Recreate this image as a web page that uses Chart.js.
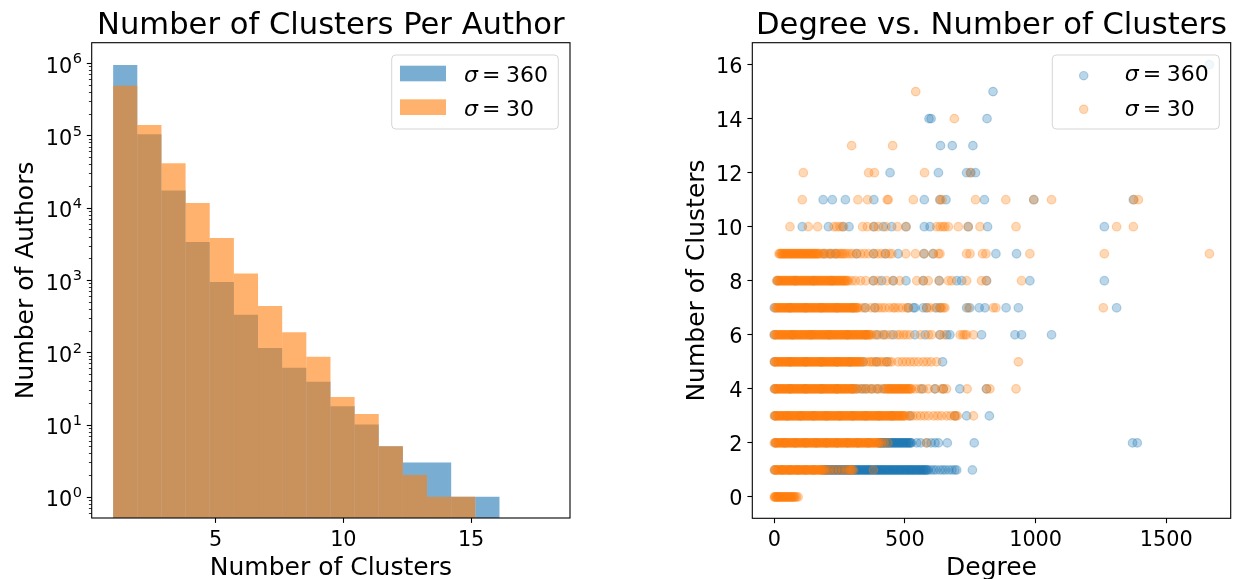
<!DOCTYPE html>
<html><head><meta charset="utf-8">
<script src="https://cdn.jsdelivr.net/npm/chart.js@4.4.0/dist/chart.umd.min.js"></script>
<style>
html,body{margin:0;padding:0;background:#fff;width:1239px;height:579px;overflow:hidden}
#c1{position:absolute;left:0;top:0}
#c2{position:absolute;left:620px;top:0}
</style></head><body>
<canvas id="c1" width="620" height="579"></canvas>
<canvas id="c2" width="619" height="579"></canvas>
<script>
// ---------------- data: left histogram ----------------
const histTitle = 'Number of Clusters Per Author';
const histXLabel = 'Number of Clusters';
const histYLabel = 'Number of Authors';
const histBinEdges = [0.99, 1.935, 2.88, 3.825, 4.77, 5.715, 6.66, 7.605, 8.55, 9.495, 10.44, 11.385, 12.33, 13.275, 14.22, 15.165, 16.11];
const histCounts360 = [944000, 104000, 17300, 3365, 942, 332, 115, 61, 39, 18, 10, 5, 3, 3, 1, 1];
const histCounts30 = [488000, 140000, 41200, 11600, 3822, 1227, 438, 190, 87, 24, 14, 5, 2, 1, 1, 0];
const histXTicks = [5, 10, 15];
const histYTickExponents = [0, 1, 2, 3, 4, 5, 6];
const sigmaValues = ['360', '30'];

// ---------------- data: right scatter ----------------
const scatTitle = 'Degree vs. Number of Clusters';
const scatXLabel = 'Degree';
const scatYLabel = 'Number of Clusters';
const scatXTicks = [0, 500, 1000, 1500];
const scatYTicks = [0, 2, 4, 6, 8, 10, 12, 14, 16];

// degrees of authors for each number of clusters (index = clusters), sigma = 360
const deg360Rows = [
  [],
  [2,30,60,90,120,150,180,190,193,197,200,204,207,211,214,218,221,225,228,232,235,239,242,246,249,253,256,260,263,267,270,274,277,281,284,288,291,295,298,302,305,309,312,316,319,323,326,330,333,337,340,344,347,351,354,358,361,365,368,372,375,379,382,386,389,393,396,400,403,407,410,414,417,421,424,428,431,435,438,442,445,449,452,456,459,463,466,470,473,477,480,484,487,491,494,498,501,505,508,512,515,519,522,526,529,533,536,540,543,547,550,554,557,561,564,568,571,575,578,582,585,589,600,610,620,634,645,655,668,680,691,698,758],
  [5,40,80,120,160,200,240,280,320,360,400,403,407,410,414,417,421,424,428,431,435,438,442,445,449,452,456,459,463,466,470,473,477,480,484,487,491,494,498,501,505,508,512,515,519,522,525,545,560,583,600,615,628,662,765,1371,1389],
  [3,50,100,150,200,250,300,350,400,450,519,690,736,823],
  [2,60,120,180,240,300,315,335,350,372,395,420,564,615,647,710,812],
  [1,60,120,180,240,290,340,390,430,644],
  [0,70,140,210,280,350,392,420,455,538,577,634,660,672,793,921,946,1061],
  [0,60,120,180,240,300,347,385,513,532,538,570,583,621,634,736,748,784,806,887,934,1310],
  [12,80,150,220,379,411,455,504,570,631,698,717,812,978,1263],
  [190,215,235,315,380,425,474,573,608,848,927],
  [107,207,262,286,381,417,449,504,574,596,742,816,1263],
  [187,222,272,381,574,634,657,804,993,1374],
  [443,628,736,752,770],
  [636,681,760],
  [592,600,814],
  [837],
  [1665]
];
// sigma = 30
const deg30Rows = [
  [0,2,4,7,9,12,14,17,19,22,25,28,31,34,37,40,43,46,49,52,55,58,61,64,67,70,73,76,80,85,91],
  [0,3,7,10,14,17,21,24,28,31,35,38,42,45,49,52,56,59,63,66,70,73,77,80,84,87,91,94,98,101,105,108,112,115,119,122,126,129,133,136,140,143,147,150,154,157,161,164,168,171,175,178,182,185,189,192,200,210,222,235,250,262,275,284,290,294,298,303,379],
  [0,3,7,10,14,17,21,24,28,31,35,38,42,45,49,52,56,59,63,66,70,73,77,80,84,87,91,94,98,101,105,108,112,115,119,122,126,129,133,136,140,143,147,150,154,157,161,164,168,171,175,178,182,185,189,192,196,199,203,206,210,213,217,220,224,227,231,234,238,241,245,248,252,255,259,262,266,269,273,276,280,283,287,290,294,297,301,304,308,311,315,318,322,325,329,332,336,339,343,346,350,353,357,360,364,367,371,374,378,381,385,388,392,395,399,402,410,420,435,583],
  [0,3,7,10,14,17,21,24,28,31,35,38,42,45,49,52,56,59,63,66,70,73,77,80,84,87,91,94,98,101,105,108,112,115,119,122,126,129,133,136,140,143,147,150,154,157,161,164,168,171,175,178,182,185,189,192,196,199,203,206,210,213,217,220,224,227,231,234,238,241,245,248,252,255,259,262,266,269,273,276,280,283,287,290,294,297,301,304,308,311,315,318,322,325,329,332,336,339,343,346,350,353,357,360,364,367,371,374,378,381,385,388,392,395,399,402,406,409,413,416,420,423,427,430,434,437,441,444,448,451,455,458,462,465,469,472,476,479,483,486,490,493,497,500,510,520,530,545,560,575,590,610,625,640,660,675,690,695,700,762],
  [0,3,7,10,14,17,21,24,28,31,35,38,42,45,49,52,56,59,63,66,70,73,77,80,84,87,91,94,98,101,105,108,112,115,119,122,126,129,133,136,140,143,147,150,154,157,161,164,168,171,175,178,182,185,189,192,196,199,203,206,210,213,217,220,224,227,231,234,238,241,245,248,252,255,259,262,266,269,273,276,280,283,287,290,294,297,301,304,308,318,328,340,352,362,375,388,400,412,425,430,434,437,441,444,448,451,455,458,462,465,469,472,476,479,483,486,490,493,497,500,504,507,511,514,518,521,525,540,555,570,589,615,640,647,659,738,812,825,925],
  [0,3,7,10,14,17,21,24,28,31,35,38,42,45,49,52,56,59,63,66,70,73,77,80,84,87,91,94,98,101,105,108,112,115,119,122,126,129,133,136,140,143,147,150,154,157,161,164,168,171,175,178,182,185,189,192,196,199,203,206,210,213,217,220,224,227,231,234,238,241,245,248,252,255,259,262,266,269,273,276,280,283,287,290,294,297,301,304,308,311,315,318,322,325,329,332,340,352,365,372,380,392,400,410,420,432,440,449,474,490,505,520,535,551,570,585,600,621,934],
  [0,3,7,10,14,17,21,24,28,31,35,38,42,45,49,52,56,59,63,66,70,73,77,80,84,87,91,94,98,101,105,108,112,115,119,122,126,129,133,136,140,143,147,150,154,157,161,164,168,171,175,178,182,185,189,192,196,199,203,206,210,213,217,220,224,227,231,234,238,241,245,248,252,255,259,262,266,269,273,276,280,283,287,290,294,297,301,304,308,311,315,318,322,325,329,332,336,339,343,346,350,353,357,360,364,367,372,385,400,415,430,445,470,480,494,505,519,560,590,602,634,650,711,722,729,736,762],
  [3,6,10,13,17,20,24,27,31,34,38,41,45,48,52,55,59,62,66,69,73,76,80,83,87,90,94,97,101,104,108,111,115,118,122,125,129,132,136,139,143,146,150,153,157,160,164,167,171,174,178,181,185,188,192,195,199,202,206,209,213,216,220,223,227,230,234,237,241,244,248,251,255,258,262,265,269,272,276,279,283,286,290,293,297,300,304,307,311,314,318,320,335,350,370,385,398,411,423,440,455,462,475,490,506,513,583,596,615,634,640,647,653,742,838,848,1259],
  [9,12,16,19,23,26,30,33,37,40,44,47,51,54,58,61,65,68,72,75,79,82,86,89,93,96,100,103,107,110,114,117,121,124,128,131,135,138,142,145,149,152,156,159,163,166,170,173,177,180,184,187,191,194,198,201,205,208,212,215,219,222,226,229,233,236,240,243,247,250,254,257,261,264,268,271,275,278,283,296,310,330,350,379,398,430,455,480,545,570,589,631,666,679,736,793,812,946],
  [18,21,25,28,32,35,39,42,46,49,53,56,60,63,67,70,74,77,81,84,88,91,95,98,102,105,109,112,116,119,123,126,130,133,137,140,144,147,151,154,158,161,165,168,172,180,188,195,205,212,220,230,238,245,252,258,264,270,279,290,300,315,330,345,360,380,395,410,425,440,450,503,540,573,608,628,634,736,749,797,810,978,1263,1665],
  [60,130,166,228,239,251,265,338,356,381,398,427,471,504,621,634,645,653,666,704,742,787,925,1310,1374],
  [107,320,357,432,436,532,634,642,770,886,993,1061,1376,1393],
  [111,361,383,575,750],
  [296,453],
  [689],
  [541],
  []
];

// ---------------- styles ----------------
const FONT = '"DejaVu Sans", sans-serif';
const BLUE_BAR = 'rgba(31,119,180,0.6)';
const ORANGE_BAR = 'rgba(255,127,14,0.6)';
const BLUE_PT = 'rgba(31,119,180,0.3)';
const ORANGE_PT = 'rgba(255,127,14,0.3)';
const TICK_FONT = 20.8, LABEL_FONT = 25, TITLE_FONT = 30.6, LEG_FONT = 22;

function drawSigma(ctx, x, base, num) {
  ctx.fillStyle = '#000';
  ctx.textAlign = 'left';
  ctx.textBaseline = 'alphabetic';
  ctx.font = 'italic ' + LEG_FONT + 'px ' + FONT;
  ctx.fillText('σ', x, base);
  ctx.font = LEG_FONT + 'px ' + FONT;
  ctx.fillText('=', x + 18, base);
  ctx.fillText(num, x + 42, base);
}
function legendBox(ctx, x, y, w, h) {
  ctx.beginPath();
  ctx.roundRect(x, y, w, h, 4);
  ctx.fillStyle = 'rgba(255,255,255,0.8)';
  ctx.fill();
  ctx.strokeStyle = 'rgba(204,204,204,0.8)';
  ctx.lineWidth = 1;
  ctx.stroke();
}
function frameAndTexts(chart, title, xl, yl, ylX) {
  const ctx = chart.ctx, ca = chart.chartArea;
  ctx.save();
  ctx.strokeStyle = '#000';
  ctx.lineWidth = 1.1;
  ctx.strokeRect(ca.left, ca.top, ca.right - ca.left, ca.bottom - ca.top);
  ctx.fillStyle = '#000';
  ctx.textAlign = 'center';
  ctx.textBaseline = 'alphabetic';
  ctx.font = TITLE_FONT + 'px ' + FONT;
  ctx.fillText(title, (ca.left + ca.right) / 2, 34.4);
  ctx.font = LABEL_FONT + 'px ' + FONT;
  ctx.fillText(xl, (ca.left + ca.right) / 2, 575);
  ctx.translate(ylX, (ca.top + ca.bottom) / 2);
  ctx.rotate(-Math.PI / 2);
  ctx.fillText(yl, 0, 0);
  ctx.restore();
}

// ---------------- left chart ----------------
const leftDecor = {
  id: 'leftDecor',
  afterDraw(chart) {
    const ctx = chart.ctx, ca = chart.chartArea, ys = chart.scales.y;
    frameAndTexts(chart, histTitle, histXLabel, histYLabel, 32.5);
    ctx.save();
    ctx.strokeStyle = '#000';
    for (let e = -1; e <= 6; e++) {
      for (let m = 1; m <= 9; m++) {
        const v = m * Math.pow(10, e);
        if (v < ys.min || v > ys.max) continue;
        const y = Math.round(ys.getPixelForValue(v)) + 0.5;
        const major = m === 1;
        ctx.lineWidth = major ? 1.1 : 0.8;
        ctx.beginPath();
        ctx.moveTo(ca.left, y);
        ctx.lineTo(ca.left - (major ? 4.9 : 2.8), y);
        ctx.stroke();
      }
    }
    ctx.fillStyle = '#000';
    ctx.textAlign = 'left';
    ctx.textBaseline = 'alphabetic';
    histYTickExponents.forEach(ex => {
      const y = ys.getPixelForValue(Math.pow(10, ex));
      ctx.font = TICK_FONT + 'px ' + FONT;
      const wb = ctx.measureText('10').width;
      ctx.font = (TICK_FONT * 0.7) + 'px ' + FONT;
      const we = ctx.measureText(String(ex)).width;
      const right = ca.left - 9.8;
      const x0 = right - we - wb - 0.5;
      const base = y + 2 + 0.364 * TICK_FONT;
      ctx.font = TICK_FONT + 'px ' + FONT;
      ctx.fillText('10', x0, base);
      ctx.font = (TICK_FONT * 0.7) + 'px ' + FONT;
      ctx.fillText(String(ex), x0 + wb + 0.5, base - 0.45 * TICK_FONT);
    });
    // legend
    legendBox(ctx, 391.7, 55, 166.6, 74);
    ctx.fillStyle = BLUE_BAR;
    ctx.fillRect(400, 65.7, 46, 15.6);
    ctx.fillStyle = ORANGE_BAR;
    ctx.fillRect(400, 99.3, 46, 15.7);
    drawSigma(ctx, 464, 81.5, sigmaValues[0]);
    drawSigma(ctx, 464, 115.5, sigmaValues[1]);
    ctx.restore();
  }
};

const centers = histCounts360.map((_, i) => (histBinEdges[i] + histBinEdges[i + 1]) / 2);
new Chart(document.getElementById('c1'), {
  type: 'bar',
  data: {
    datasets: [
      { label: 'σ = ' + sigmaValues[0], data: centers.map((c, i) => ({ x: c, y: histCounts360[i] || null })),
        backgroundColor: BLUE_BAR, borderWidth: 0, inflateAmount: 0, order: 2, grouped: false, barPercentage: 1, categoryPercentage: 1 },
      { label: 'σ = ' + sigmaValues[1], data: centers.map((c, i) => ({ x: c, y: histCounts30[i] || null })),
        backgroundColor: ORANGE_BAR, borderWidth: 0, inflateAmount: 0, order: 1, grouped: false, barPercentage: 1, categoryPercentage: 1 }
    ]
  },
  options: {
    responsive: false, animation: false, devicePixelRatio: 1, events: [],
    layout: { padding: { left: 0, right: 50, top: 42.7, bottom: 0 } },
    plugins: { legend: { display: false }, tooltip: { enabled: false }, title: { display: false } },
    scales: {
      x: {
        type: 'linear', min: 0.15, max: 18.87, offset: false,
        afterBuildTicks: a => { a.ticks = histXTicks.map(v => ({ value: v })); },
        afterFit: s => { s.height = 61; },
        grid: { display: true, offset: false, drawOnChartArea: false, tickLength: 4.9, tickColor: '#000', tickWidth: 1.1 },
        border: { display: false },
        ticks: { font: { family: FONT, size: TICK_FONT }, color: '#000', padding: 4.9, maxRotation: 0, autoSkip: false, callback: v => String(v) }
      },
      y: {
        type: 'logarithmic', min: 0.51, max: 1.92e6,
        afterBuildTicks: a => { a.ticks = histYTickExponents.map(e => ({ value: Math.pow(10, e) })); },
        afterFit: s => { s.width = 91.7; },
        grid: { display: false }, border: { display: false },
        ticks: { callback: () => '', font: { family: FONT, size: TICK_FONT } }
      }
    }
  },
  plugins: [leftDecor]
});

// ---------------- right chart ----------------
const pts360 = [], pts30 = [];
deg360Rows.forEach((row, k) => row.forEach(d => pts360.push({ x: d, y: k })));
deg30Rows.forEach((row, k) => row.forEach(d => pts30.push({ x: d, y: k })));

const rightDecor = {
  id: 'rightDecor',
  afterDraw(chart) {
    const ctx = chart.ctx;
    frameAndTexts(chart, scatTitle, scatXLabel, scatYLabel, 84);
    ctx.save();
    legendBox(ctx, 432.3, 55, 167, 74);
    [[BLUE_PT, 75.7], [ORANGE_PT, 109.3]].forEach(([c, y]) => {
      ctx.beginPath();
      ctx.arc(463.7, y, 4.2, 0, Math.PI * 2);
      ctx.fillStyle = c; ctx.fill();
      ctx.strokeStyle = c; ctx.lineWidth = 1.2; ctx.stroke();
    });
    drawSigma(ctx, 504.7, 81.2, sigmaValues[0]);
    drawSigma(ctx, 504.7, 115.8, sigmaValues[1]);
    ctx.restore();
  }
};

new Chart(document.getElementById('c2'), {
  type: 'scatter',
  data: {
    datasets: [
      { label: 'σ = ' + sigmaValues[0], data: pts360, backgroundColor: BLUE_PT, borderColor: BLUE_PT,
        pointRadius: 4.3, pointBorderWidth: 1.2, order: 2 },
      { label: 'σ = ' + sigmaValues[1], data: pts30, backgroundColor: ORANGE_PT, borderColor: ORANGE_PT,
        pointRadius: 4.3, pointBorderWidth: 1.2, order: 1 }
    ]
  },
  options: {
    responsive: false, animation: false, devicePixelRatio: 1, events: [],
    layout: { padding: { left: 0, right: 8.3, top: 42.7, bottom: 0 } },
    plugins: { legend: { display: false }, tooltip: { enabled: false }, title: { display: false } },
    scales: {
      x: {
        type: 'linear', min: -84.2, max: 1746.5,
        afterBuildTicks: a => { a.ticks = scatXTicks.map(v => ({ value: v })); },
        afterFit: s => { s.height = 60.7; },
        grid: { display: true, drawOnChartArea: false, tickLength: 4.9, tickColor: '#000', tickWidth: 1.1 },
        border: { display: false },
        ticks: { font: { family: FONT, size: TICK_FONT }, color: '#000', padding: 4.9, maxRotation: 0, autoSkip: false, callback: v => String(v) }
      },
      y: {
        type: 'linear', min: -0.79, max: 16.81,
        afterBuildTicks: a => { a.ticks = scatYTicks.map(v => ({ value: v })); },
        afterFit: s => { s.width = 132.3; },
        grid: { display: true, drawOnChartArea: false, tickLength: 4.9, tickColor: '#000', tickWidth: 1.1 },
        border: { display: false },
        ticks: { font: { family: FONT, size: TICK_FONT }, color: '#000', padding: 4.9, labelOffset: 3, autoSkip: false, callback: v => String(v) }
      }
    }
  },
  plugins: [rightDecor]
});
</script>
</body></html>
